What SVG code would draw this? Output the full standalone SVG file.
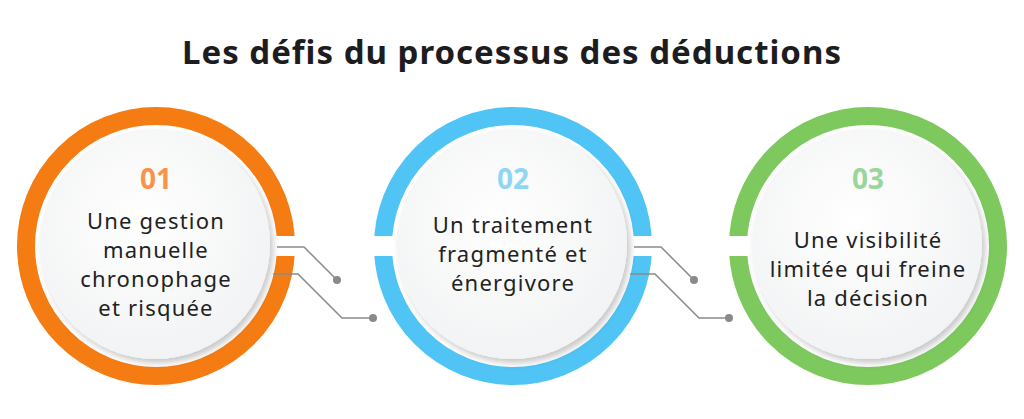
<svg xmlns="http://www.w3.org/2000/svg" width="1024" height="419" viewBox="0 0 1024 419">
<style>
.title{font-family:"Noto Sans","Liberation Sans",sans-serif;font-weight:700;font-size:33px;letter-spacing:1px;fill:#1d1d1f;text-anchor:middle}
.num{font-family:"Noto Sans","Liberation Sans",sans-serif;font-weight:700;font-size:28px;text-anchor:middle}
.body{font-family:"Noto Sans","Liberation Sans",sans-serif;font-weight:400;font-size:22px;letter-spacing:1.2px;fill:#222;text-anchor:middle}
.ring{fill:none;stroke-width:18}
.inner{fill:url(#ig);filter:url(#sh)}
.conn{fill:none;stroke:#8a8a8a;stroke-width:1.5}
.dot{fill:#8a8a8a}
</style>
<defs>
<radialGradient id="ig" cx="0.45" cy="0.4" r="0.6">
<stop offset="0" stop-color="#ffffff"/>
<stop offset="1" stop-color="#f2f3f4"/>
</radialGradient>
<filter id="sh" x="-20%" y="-20%" width="140%" height="140%">
<feDropShadow dx="3" dy="4" stdDeviation="3" flood-color="#000" flood-opacity="0.22"/>
</filter>
<mask id="m1"><rect width="1024" height="419" fill="#fff"/><rect x="270" y="236" width="35" height="20" fill="#000"/></mask>
<mask id="m2"><rect width="1024" height="419" fill="#fff"/><rect x="365" y="236" width="35" height="20" fill="#000"/><rect x="627" y="236" width="35" height="20" fill="#000"/></mask>
<mask id="m3"><rect width="1024" height="419" fill="#fff"/><rect x="720" y="236" width="35" height="20" fill="#000"/></mask>
</defs>
<rect width="1024" height="419" fill="#fff"/>
<text class="title" x="512" y="64">Les défis du processus des déductions</text>
<g id="node1">
<circle class="ring" cx="156" cy="246" r="130" stroke="#f57c12" mask="url(#m1)"/>
<circle class="inner" cx="155" cy="244" r="115"/>
<text class="num" x="156" y="189" fill="#f7944a">01</text>
<text class="body" x="156" y="229">Une gestion</text>
<text class="body" x="156" y="258">manuelle</text>
<text class="body" x="156" y="287">chronophage</text>
<text class="body" x="156" y="316">et risquée</text>
</g>
<g id="node2">
<circle class="ring" cx="513" cy="246" r="130" stroke="#4fc4f5" mask="url(#m2)"/>
<circle class="inner" cx="512" cy="244" r="115"/>
<text class="num" x="513" y="189" fill="#8fd5f6">02</text>
<text class="body" x="513" y="233">Un traitement</text>
<text class="body" x="513" y="262">fragmenté et</text>
<text class="body" x="513" y="291">énergivore</text>
</g>
<g id="node3">
<circle class="ring" cx="868" cy="246" r="130" stroke="#7dc95e" mask="url(#m3)"/>
<circle class="inner" cx="867" cy="244" r="115"/>
<text class="num" x="868" y="189" fill="#98d69a">03</text>
<text class="body" x="868" y="248">Une visibilité</text>
<text class="body" x="868" y="277">limitée qui freine</text>
<text class="body" x="868" y="306">la décision</text>
</g>
<g id="connectors">
<polyline class="conn" points="277,247 304,247 337,280"/>
<circle class="dot" cx="337" cy="280" r="4"/>
<polyline class="conn" points="273,274 298,274 342,318 373,318"/>
<circle class="dot" cx="373" cy="318" r="4"/>
<polyline class="conn" points="634,247 661,247 694,280"/>
<circle class="dot" cx="694" cy="280" r="4"/>
<polyline class="conn" points="630,274 655,274 699,318 729,318"/>
<circle class="dot" cx="729" cy="318" r="4"/>
</g>
</svg>
